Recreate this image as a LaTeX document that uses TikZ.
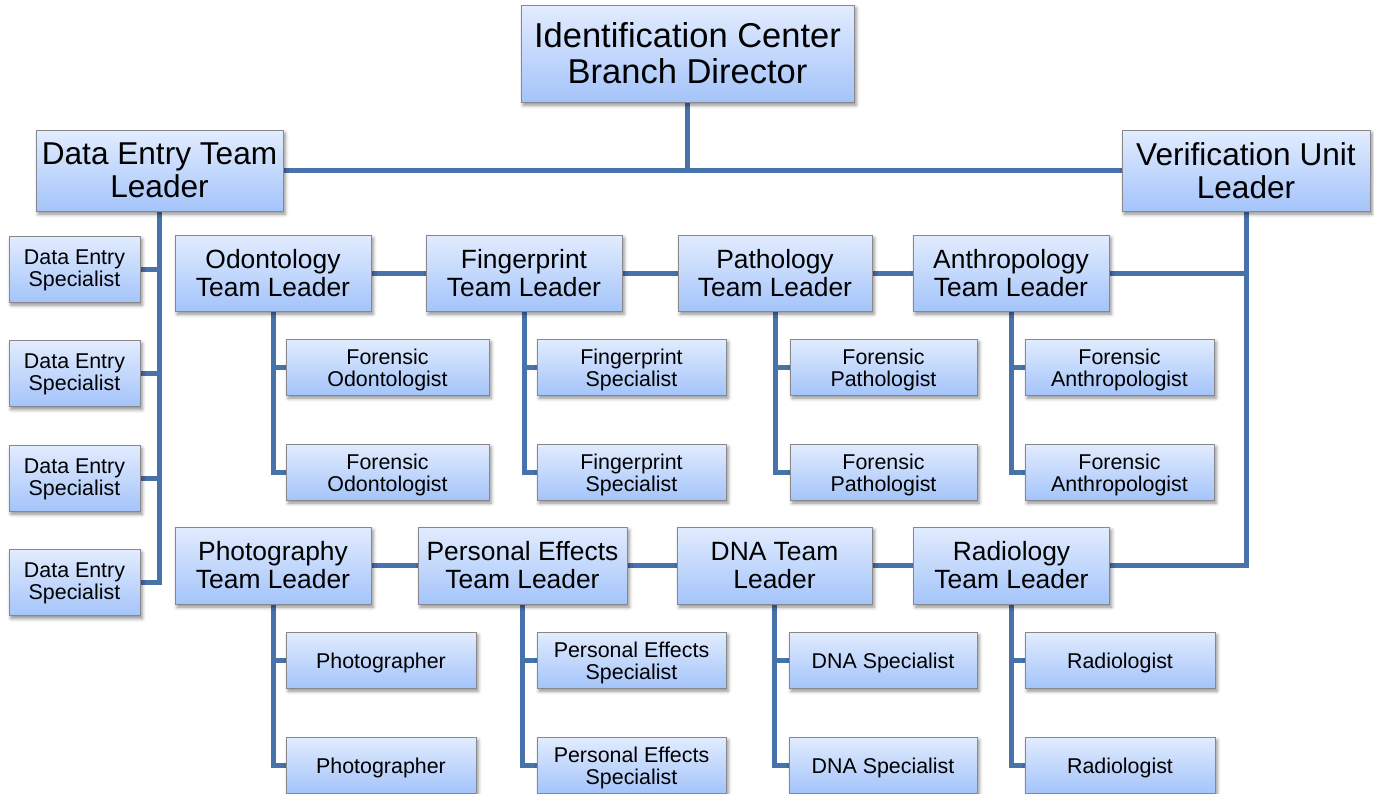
\documentclass[tikz,border=0pt]{standalone}
\usepackage{fontspec}
\setmainfont{Liberation Sans}
\usetikzlibrary{shadows,shadows.blur,backgrounds}
\definecolor{boxtop}{RGB}{226,236,254}
\definecolor{boxmid}{RGB}{202,220,252}
\definecolor{boxbot}{RGB}{164,196,250}
\definecolor{boxline}{RGB}{135,135,140}
\definecolor{conn}{RGB}{72,114,170}
\newcommand{\dnl}[1]{\raisebox{-2.5pt}[\height][\depth]{#1}}
\newcommand{\dnk}[1]{\raisebox{-1pt}[\height][\depth]{#1}}
\tikzset{
  orgbox/.style={draw=boxline, line width=1pt, top color=boxtop, middle color=boxmid, bottom color=boxbot,
    align=center, inner sep=0pt,
    blur shadow={shadow xshift=2pt, shadow yshift=-3pt, shadow blur radius=3.5pt, shadow opacity=45}},
  fdir/.style={font=\fontsize{34.5}{36}\selectfont},
  funit/.style={font=\fontsize{31.6}{32.5}\selectfont},
  fteam/.style={font=\fontsize{26.4}{28}\selectfont},
  fsub/.style={font=\fontsize{21.4}{22}\selectfont},
  link/.style={draw=conn, line width=5pt},
}
\begin{document}
\begin{tikzpicture}[x=1pt,y=-1pt]
\clip (0,0) rectangle (1374,793);
% top
\node[orgbox,fdir,minimum width=333pt,minimum height=97pt] (dir) at (687.5,53.5) {Identification Center\\Branch Director};
\node[orgbox,funit,minimum width=247pt,minimum height=81pt] (detl) at (159.5,170.5) {Data Entry Team\\Leader};
\node[orgbox,funit,minimum width=248pt,minimum height=81pt] (vul) at (1246,170.5) {Verification Unit\\Leader};
% data entry specialists
\node[orgbox,fsub,minimum width=131pt,minimum height=66pt] (des1) at (74.5,269) {\dnk{Data Entry}\\\dnk{Specialist}};
\node[orgbox,fsub,minimum width=131pt,minimum height=66pt] (des2) at (74.5,373.5) {\dnk{Data Entry}\\\dnk{Specialist}};
\node[orgbox,fsub,minimum width=131pt,minimum height=66pt] (des3) at (74.5,478) {\dnk{Data Entry}\\\dnk{Specialist}};
\node[orgbox,fsub,minimum width=131pt,minimum height=66pt] (des4) at (74.5,582.5) {\dnk{Data Entry}\\\dnk{Specialist}};
% team leaders row 1
\node[orgbox,fteam,minimum width=196pt,minimum height=76pt] (odo) at (273,273) {Odontology\\Team Leader};
\node[orgbox,fteam,minimum width=196pt,minimum height=76pt] (fin) at (524,273) {Fingerprint\\Team Leader};
\node[orgbox,fteam,minimum width=194pt,minimum height=76pt] (pat) at (775,273) {Pathology\\Team Leader};
\node[orgbox,fteam,minimum width=196pt,minimum height=76pt] (ant) at (1011,273) {Anthropology\\Team Leader};
% subs row 1
\node[orgbox,fsub,minimum width=203pt,minimum height=56pt] (fo1) at (387.5,367) {\dnl{Forensic}\\\dnl{Odontologist}};
\node[orgbox,fsub,minimum width=203pt,minimum height=56pt] (fo2) at (387.5,472) {\dnl{Forensic}\\\dnl{Odontologist}};
\node[orgbox,fsub,minimum width=189pt,minimum height=56pt] (fs1) at (631.5,367) {\dnl{Fingerprint}\\\dnl{Specialist}};
\node[orgbox,fsub,minimum width=189pt,minimum height=56pt] (fs2) at (631.5,472) {\dnl{Fingerprint}\\\dnl{Specialist}};
\node[orgbox,fsub,minimum width=187pt,minimum height=56pt] (fp1) at (883.5,367) {\dnl{Forensic}\\\dnl{Pathologist}};
\node[orgbox,fsub,minimum width=187pt,minimum height=56pt] (fp2) at (883.5,472) {\dnl{Forensic}\\\dnl{Pathologist}};
\node[orgbox,fsub,minimum width=189pt,minimum height=56pt] (fa1) at (1119.5,367) {\dnl{Forensic}\\\dnl{Anthropologist}};
\node[orgbox,fsub,minimum width=189pt,minimum height=56pt] (fa2) at (1119.5,472) {\dnl{Forensic}\\\dnl{Anthropologist}};
% team leaders row 2
\node[orgbox,fteam,minimum width=196pt,minimum height=77pt] (pho) at (273,565.5) {Photography\\Team Leader};
\node[orgbox,fteam,minimum width=209pt,minimum height=77pt] (pe) at (522.5,565.5) {Personal Effects\\Team Leader};
\node[orgbox,fteam,minimum width=195pt,minimum height=77pt] (dna) at (774.5,565.5) {DNA Team\\Leader};
\node[orgbox,fteam,minimum width=196pt,minimum height=77pt] (rad) at (1011.5,565.5) {Radiology\\Team Leader};
% subs row 2
\node[orgbox,fsub,minimum width=190pt,minimum height=56pt] (ph1) at (381,660) {\dnl{Photographer}};
\node[orgbox,fsub,minimum width=190pt,minimum height=56pt] (ph2) at (381,765) {\dnl{Photographer}};
\node[orgbox,fsub,minimum width=189pt,minimum height=56pt] (ps1) at (631.5,660) {\dnl{Personal Effects}\\\dnl{Specialist}};
\node[orgbox,fsub,minimum width=189pt,minimum height=56pt] (ps2) at (631.5,765) {\dnl{Personal Effects}\\\dnl{Specialist}};
\node[orgbox,fsub,minimum width=188pt,minimum height=56pt] (ds1) at (883,660) {\dnl{DNA Specialist}};
\node[orgbox,fsub,minimum width=188pt,minimum height=56pt] (ds2) at (883,765) {\dnl{DNA Specialist}};
\node[orgbox,fsub,minimum width=190pt,minimum height=56pt] (rl1) at (1120,660) {\dnl{Radiologist}};
\node[orgbox,fsub,minimum width=190pt,minimum height=56pt] (rl2) at (1120,765) {\dnl{Radiologist}};
\begin{scope}[on background layer]
\draw[link] (dir.south) -- (dir.south |- detl.east);
\draw[link] (detl.east) -- (vul.west);
\draw[link] (detl.south) |- (des4.east);
\foreach \n in {des1,des2,des3} \draw[link] (\n.east) -- (\n.east -| detl.south);
\draw[link] (vul.south) |- (rad.east);
\draw[link] (ant.east) -- (ant.east -| vul.south);
\draw[link] (odo.east) -- (fin.west);
\draw[link] (fin.east) -- (pat.west);
\draw[link] (pat.east) -- (ant.west);
\draw[link] (pho.east) -- (pe.west);
\draw[link] (pe.east) -- (dna.west);
\draw[link] (dna.east) -- (rad.west);
\draw[link] (odo.south) |- (fo2.west);
\draw[link] (fo1.west) -- (fo1.west -| odo.south);
\draw[link] (fin.south) |- (fs2.west);
\draw[link] (fs1.west) -- (fs1.west -| fin.south);
\draw[link] (pat.south) |- (fp2.west);
\draw[link] (fp1.west) -- (fp1.west -| pat.south);
\draw[link] (ant.south) |- (fa2.west);
\draw[link] (fa1.west) -- (fa1.west -| ant.south);
\draw[link] (pho.south) |- (ph2.west);
\draw[link] (ph1.west) -- (ph1.west -| pho.south);
\draw[link] (pe.south) |- (ps2.west);
\draw[link] (ps1.west) -- (ps1.west -| pe.south);
\draw[link] (dna.south) |- (ds2.west);
\draw[link] (ds1.west) -- (ds1.west -| dna.south);
\draw[link] (rad.south) |- (rl2.west);
\draw[link] (rl1.west) -- (rl1.west -| rad.south);
\end{scope}
\end{tikzpicture}
\end{document}
